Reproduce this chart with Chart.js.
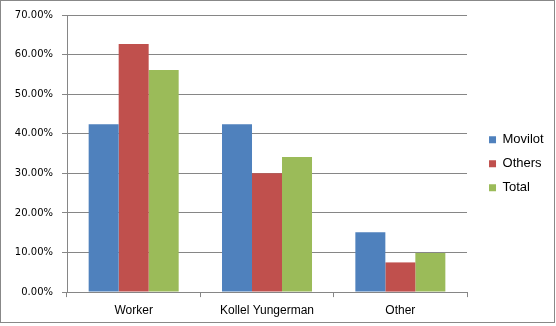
<!DOCTYPE html>
<html>
<head>
<meta charset="utf-8">
<script src="https://cdn.jsdelivr.net/npm/chart.js@4/dist/chart.umd.min.js"></script>
<style>
  html, body { margin: 0; padding: 0; background: #fff; }
  #wrap { width: 556px; height: 326px; }
</style>
</head>
<body>
<div id="wrap"><canvas id="c" width="556" height="326"></canvas></div>
<script>
const categories = ["Worker", "Kollel Yungerman", "Other"];
const seriesNames = ["Movilot", "Others", "Total"];
const movilot = [42.4, 42.4, 15.1];
const others = [62.7, 30.0, 7.5];
const total = [56.1, 34.1, 9.9];
const yTicks = [0, 10, 20, 30, 40, 50, 60, 70];
const colors = ["#4F81BD", "#C0504D", "#9BBB59"];

const frame = {
  id: 'frame',
  afterLayout(chart) {
    if (chart.legend) {
      chart.legend.top -= 6;
      chart.legend.bottom -= 6;
    }
  },
  afterDraw(chart) {
    const ctx = chart.ctx;
    ctx.save();
    ctx.strokeStyle = '#888888';
    ctx.lineWidth = 1;
    ctx.strokeRect(0.5, 0.5, 554, 322);
    ctx.restore();
  }
};

const gridColor = '#868686';
const fontFamily = '"Liberation Sans", Arial, sans-serif';
const tickFamily = '"DejaVu Sans", Verdana, sans-serif';
const barOpts = { barPercentage: 1.0, categoryPercentage: 0.675 };

new Chart(document.getElementById('c'), {
  type: 'bar',
  data: {
    labels: categories,
    datasets: [
      Object.assign({ label: seriesNames[0], data: movilot, backgroundColor: colors[0] }, barOpts),
      Object.assign({ label: seriesNames[1], data: others, backgroundColor: colors[1] }, barOpts),
      Object.assign({ label: seriesNames[2], data: total, backgroundColor: colors[2] }, barOpts)
    ]
  },
  options: {
    responsive: false,
    devicePixelRatio: 1,
    animation: false,
    layout: { padding: { left: 7, top: 15, right: 2.3, bottom: 1.5 } },
    plugins: {
      tooltip: { enabled: false },
      legend: {
        position: 'right',
        labels: {
          boxWidth: 7,
          boxHeight: 7,
          padding: 11,
          color: '#000',
          font: { family: fontFamily, size: 13 }
        }
      }
    },
    scales: {
      x: {
        grid: {
          offset: true,
          drawOnChartArea: false,
          drawTicks: true,
          tickLength: 5,
          color: gridColor
        },
        border: { display: true, color: gridColor },
        ticks: {
          color: '#000',
          padding: 6.5,
          font: { family: fontFamily, size: 12 }
        }
      },
      y: {
        min: 0,
        max: 70,
        afterBuildTicks(scale) {
          scale.ticks = yTicks.map(v => ({ value: v }));
        },
        grid: {
          color: gridColor,
          tickLength: 5,
          drawTicks: true
        },
        border: { display: true, color: gridColor },
        ticks: {
          color: '#000',
          padding: 9,
          font: { family: tickFamily, size: 10 },
          callback: (v) => v.toFixed(2) + '%'
        },
        afterFit(scale) { scale.width = 60; }
      },
      gap: {
        type: 'linear',
        position: 'right',
        display: true,
        grid: { display: false },
        border: { display: false },
        ticks: { display: false },
        afterFit(scale) { scale.width = 11; }
      }
    }
  },
  plugins: [frame]
});
</script>
</body>
</html>
